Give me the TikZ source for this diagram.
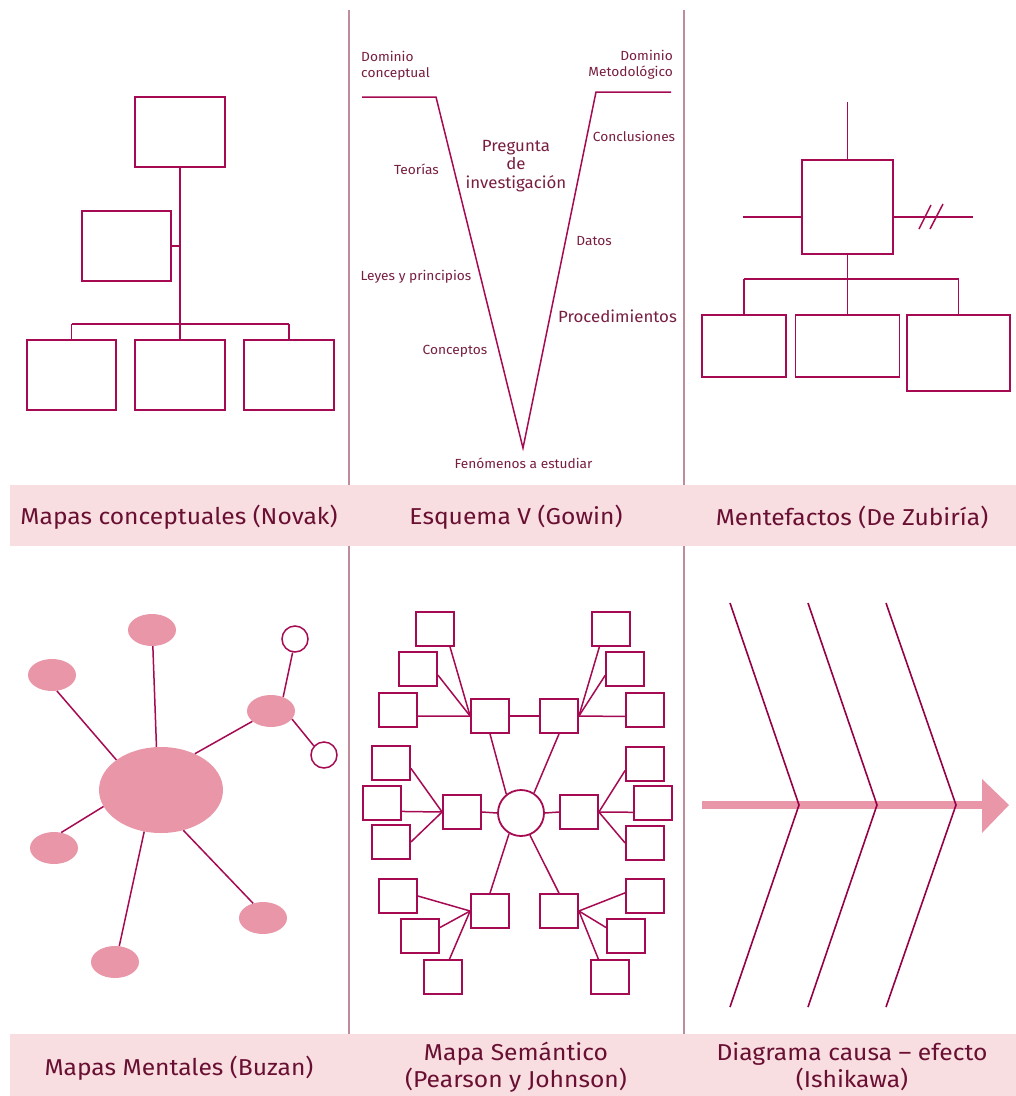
\documentclass[tikz,border=0pt]{standalone}
\usepackage{fontspec}
\setmainfont{Fira Sans}
\newfontfamily\lblfont[FakeStretch=1.07]{Fira Sans}
\newfontfamily\vfont[FakeStretch=1.04]{Fira Sans}
\usetikzlibrary{shapes.geometric,calc}
\definecolor{mag}{RGB}{166,10,82}
\definecolor{bonec}{RGB}{150,0,70}
\definecolor{txt}{RGB}{120,30,65}
\definecolor{lbltxt}{RGB}{105,15,50}
\definecolor{barpink}{RGB}{248,221,225}
\definecolor{pinkf}{RGB}{233,151,168}
\definecolor{divc}{RGB}{190,140,155}
\begin{document}
\begin{tikzpicture}[x=1pt,y=-1pt,
  ln/.style={draw=mag, line width=1.5pt},
  bx/.style={draw=mag, line width=1.8pt, fill=white, rectangle, inner sep=0pt},
  sbox/.style={bx, minimum width=38pt, minimum height=34pt},
  ell/.style={ellipse, fill=pinkf, inner sep=0pt, minimum width=48pt, minimum height=32pt},
  ring/.style={circle, draw=mag, line width=1.5pt, fill=white, inner sep=0pt, minimum size=26pt},
  vtxt/.style={text=txt, inner sep=0pt, font=\vfont\fontsize{13.2}{16}\selectfont},
  vbig/.style={text=txt, inner sep=0pt, font=\vfont\fontsize{16.2}{18.5}\selectfont, align=center},
  lbl/.style={text=lbltxt, inner sep=0pt, align=center, font=\lblfont\fontsize{23}{27}\selectfont},
  bone/.style={draw=bonec, line width=1.6pt},
  divl/.style={draw=divc, line width=1.3pt}]
\useasboundingbox (0,0) rectangle (1016,1096);
\fill[white] (0,0) rectangle (1016,1096);

% dividers
\draw[divl] (349,10) -- (349,1096);
\draw[divl] (684,10) -- (684,1096);

% bars
\fill[barpink] (10,485) rectangle (1016,546);
\fill[barpink] (10,1034) rectangle (1016,1096);

\node[lbl] (l1) at (179,517) {Mapas conceptuales (Novak)};
\node[lbl] (l2) at (516,517) {Esquema V (Gowin)};
\node[lbl] (l3) at (852,517) {Mentefactos (De Zubiría)};
\node[lbl] (l4) at (179,1068) {Mapas Mentales (Buzan)};
\node[lbl] (l5) at (516,1067) {Mapa Semántico\\(Pearson y Johnson)};
\node[lbl] (l6) at (852,1067) {Diagrama causa – efecto\\(Ishikawa)};

% ---------- Concept map ----------
\node[bx, minimum width=90pt, minimum height=70pt] (ctop) at (180,132) {};
\node[bx, minimum width=89pt, minimum height=70pt] (cmid) at (126.5,246) {};
\node[bx, minimum width=89pt, minimum height=70pt] (cb1) at (71.5,375) {};
\node[bx, minimum width=90pt, minimum height=70pt] (cb2) at (180,375) {};
\node[bx, minimum width=90pt, minimum height=70pt] (cb3) at (289,375) {};
\coordinate (cj) at (180,324);
\draw[ln] (ctop.south) -- (cj);
\draw[ln] (cmid.east) -- (cmid.east -| ctop.south);
\draw[ln] (cb1.north |- cj) -- (cb3.north |- cj);
\draw[ln] (cb1.north |- cj) -- (cb1.north);
\draw[ln] (cj) -- (cb2.north);
\draw[ln] (cb3.north |- cj) -- (cb3.north);

% ---------- Esquema V ----------
\coordinate (vl0) at (362,97);
\coordinate (vl1) at (436,97);
\coordinate (vb) at (523,448);
\coordinate (vr1) at (596,92);
\coordinate (vr0) at (671,92);
\draw[ln, line join=miter] (vl0) -- (vl1) -- (vb) -- (vr1) -- (vr0);
\node[vtxt, align=left, anchor=west] (dc) at (361,66) {Dominio\\conceptual};
\node[vtxt, align=right, anchor=east] (dm) at (673,65) {Dominio\\Metodológico};
\node[vbig] (pq) at (516,166) {Pregunta\\de\\investigación};
\node[vtxt] (tc) at (634,136) {Conclusiones};
\node[vtxt] (tt) at (416.5,169) {Teorías};
\node[vtxt] (td) at (594,241) {Datos};
\node[vtxt] (tl) at (416,277) {Leyes y principios};
\node[vbig] (tp) at (617.5,316) {Procedimientos};
\node[vtxt] (tco) at (455,351) {Conceptos};
\node[vtxt] (tf) at (523.5,463) {Fenómenos a estudiar};

% ---------- Mentefactos ----------
\node[bx, minimum width=91pt, minimum height=94pt] (mm) at (847.5,207) {};
\node[bx, minimum width=84pt, minimum height=62pt] (m1) at (744,346) {};
\node[bx, minimum width=104pt, minimum height=62pt] (m2) at (847.5,346) {};
\node[bx, minimum width=103pt, minimum height=76pt] (m3) at (958.5,353) {};
\coordinate (mtop) at (847.5,102);
\coordinate (mleft) at (743,217);
\coordinate (mright) at (973,217);
\coordinate (mj) at (847.5,279);
\draw[ln] (mtop) -- (mm.north);
\draw[ln] (mleft) -- (mleft -| mm.west);
\draw[ln] (mright -| mm.east) -- (mright);
\draw[ln] (919,229) -- (931,205);
\draw[ln] (930,229) -- (943,204);
\draw[ln] (mm.south) -- (mj);
\draw[ln] (m1.north |- mj) -- (m3.north |- mj);
\draw[ln] (m1.north |- mj) -- (m1.north);
\draw[ln] (mj) -- (m2.north);
\draw[ln] (m3.north |- mj) -- (m3.north);

% ---------- Mind map ----------
\node[ell, minimum width=124pt, minimum height=86pt] (mc) at (161,790) {};
\node[ell] (e1) at (152,630) {};
\node[ell] (e2) at (52,675) {};
\node[ell] (e3) at (271,711) {};
\node[ell] (e4) at (54,848) {};
\node[ell] (e5) at (263,918) {};
\node[ell] (e6) at (115,962) {};
\node[ring] (r1) at (295,639) {};
\node[ring] (r2) at (324,755) {};
\draw[ln] (e1.-87) -- (mc.96.6);
\draw[ln] (e2.-73) -- (mc.146);
\draw[ln] (e3.-151) -- (mc.47);
\draw[ln] (e4.65) -- (mc.-164.6);
\draw[ln] (e6.75) -- (mc.-112.5);
\draw[ln] (e5.124) -- (mc.-61);
\draw[ln] (e3.49) -- (r1.-100);
\draw[ln] (e3.-21) -- (r2.138);

% ---------- Semantic map ----------
\node[circle, draw=mag, line width=1.8pt, fill=white, inner sep=0pt, minimum size=46pt] (sc) at (521,813) {};
\node[sbox] (A) at (490,716) {};
\node[sbox] (B) at (559,716) {};
\node[sbox] (C) at (462,812) {};
\node[sbox] (D) at (579,812) {};
\node[sbox] (E) at (490,911) {};
\node[sbox] (F) at (559,911) {};
\node[sbox] (a1) at (435,629) {};
\node[sbox] (a2) at (418,669) {};
\node[sbox] (a3) at (398,710) {};
\node[sbox] (b1) at (611,629) {};
\node[sbox] (b2) at (625,669) {};
\node[sbox] (b3) at (645,710) {};
\node[sbox] (c1) at (391,763) {};
\node[sbox] (c2) at (382,803) {};
\node[sbox] (c3) at (391,842) {};
\node[sbox] (d1) at (645,764) {};
\node[sbox] (d2) at (653,803) {};
\node[sbox] (d3) at (645,843) {};
\node[sbox] (f1e) at (398,896) {};
\node[sbox] (f2e) at (420,936) {};
\node[sbox] (f3e) at (443,977) {};
\node[sbox] (g1) at (645,896) {};
\node[sbox] (g2) at (626,936) {};
\node[sbox] (g3) at (610,977) {};
\draw[ln] (A.east) -- (B.west);
\draw[ln] (A.south) -- (sc.128);
\draw[ln] (B.south) -- (sc.57);
\draw[ln] (C.east) -- (sc.west);
\draw[ln] (sc.east) -- (D.west);
\draw[ln] (sc.-120) -- (E.north);
\draw[ln] (sc.-68) -- (F.north);
\draw[ln] (A.west) -- (a1.-50);
\draw[ln] (A.west) -- (a2.-17.5);
\draw[ln] (A.west) -- (a3.-17.5);
\draw[ln] (B.east) -- (b1.-123);
\draw[ln] (B.east) -- (b2.-162.5);
\draw[ln] (B.east) -- (b3.-162.5);
\draw[ln] (C.west) -- (c1.-15);
\draw[ln] (C.west) -- (c2.-23.5);
\draw[ln] (C.west) -- (c3.east);
\draw[ln] (D.east) -- (d1.-162);
\draw[ln] (D.east) -- (d2.-155);
\draw[ln] (D.east) -- (d3.west);
\draw[ln] (E.west) -- (f1e.east);
\draw[ln] (E.west) -- (f2e.23);
\draw[ln] (E.west) -- (f3e.70);
\draw[ln] (F.east) -- (g1.171);
\draw[ln] (F.east) -- (g2.157);
\draw[ln] (F.east) -- (g3.123);

% ---------- Ishikawa ----------
\fill[pinkf] (702,801) rectangle (983,809);
\fill[pinkf] (982,779) -- (1009,805) -- (982,833) -- cycle;
\draw[bone] (730,603) -- (799,805) -- (730,1007);
\draw[bone] (808,603) -- (877,805) -- (808,1007);
\draw[bone] (886,603) -- (956,805) -- (886,1007);
\end{tikzpicture}
\end{document}
